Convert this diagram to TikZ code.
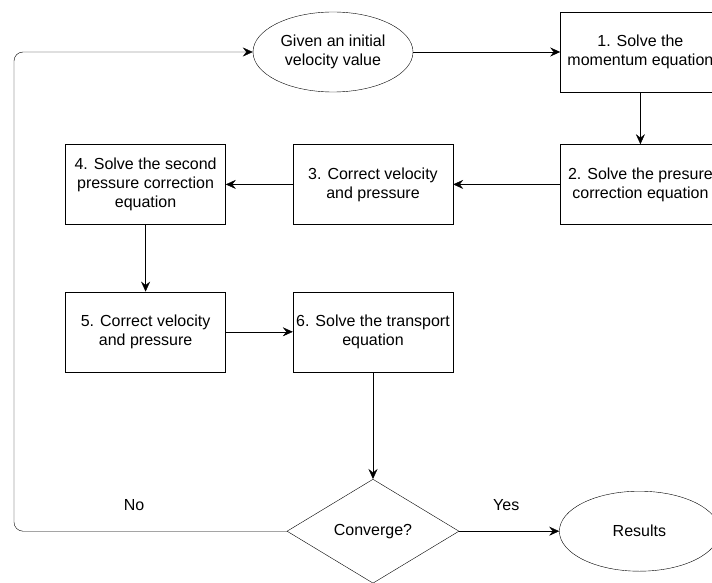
\documentclass[tikz,border=0pt]{standalone}
\usepackage{fontspec}
\setmainfont{Liberation Sans}
\usetikzlibrary{positioning, shapes.geometric, arrows.meta}
\tikzset{
>={Stealth[length=10pt,width=9pt,inset=3.5pt]}, % filled heads as in the drawing
line width=1.3pt,
every node/.style={font=\fontsize{16}{19}\selectfont, align=center},
stepbox/.style={draw, rectangle, minimum width=160pt, minimum height=80pt, inner sep=0pt},
terminal/.style={draw, ellipse, minimum width=160pt, minimum height=80pt, inner sep=0pt},
test/.style={draw, diamond, aspect=1.65, minimum width=172pt, minimum height=104pt, inner sep=0pt},
}

\begin{document}
\begin{tikzpicture}
        \useasboundingbox (0,0) rectangle (712pt,-583pt);

        \node[terminal] (given) at (333pt,-52pt) {Given an initial\\velocity value};
        \node[stepbox, right=147pt of given] (s1) {1. Solve the\\momentum equation};
        \node[stepbox, below=52pt of s1] (s2) {2. Solve the presure\\correction equation};
        \node[stepbox, left=107pt of s2] (s3) {3. Correct velocity\\and pressure};
        \node[stepbox, left=67pt of s3] (s4) {4. Solve the second\\pressure correction\\equation};
        \node[stepbox, below=67pt of s4] (s5) {5. Correct velocity\\and pressure};
        \node[stepbox, right=67pt of s5] (s6) {6. Solve the transport\\equation};
        \node[test, below=107pt of s6] (conv) {Converge?};
        \node[terminal, right=100pt of conv] (res) {Results};
        \coordinate (corner) at (14pt,0);

        \draw[->] (given) -- (s1);
        \draw[->] (s1) -- (s2);
        \draw[->] (s2) -- (s3);
        \draw[->] (s3) -- (s4);
        \draw[->] (s4) -- (s5);
        \draw[->] (s5) -- (s6);
        \draw[->] (s6) -- (conv);
        \draw[->] (conv) -- node[pos=0.47, yshift=26pt] {Yes} (res);
        \draw[->, rounded corners=9pt] (conv.west) -- node[pos=0.56, yshift=26pt] {No} (conv.west -| corner)
          -- (given.west -| corner) -- (given.west);
      \end{tikzpicture}
\end{document}
